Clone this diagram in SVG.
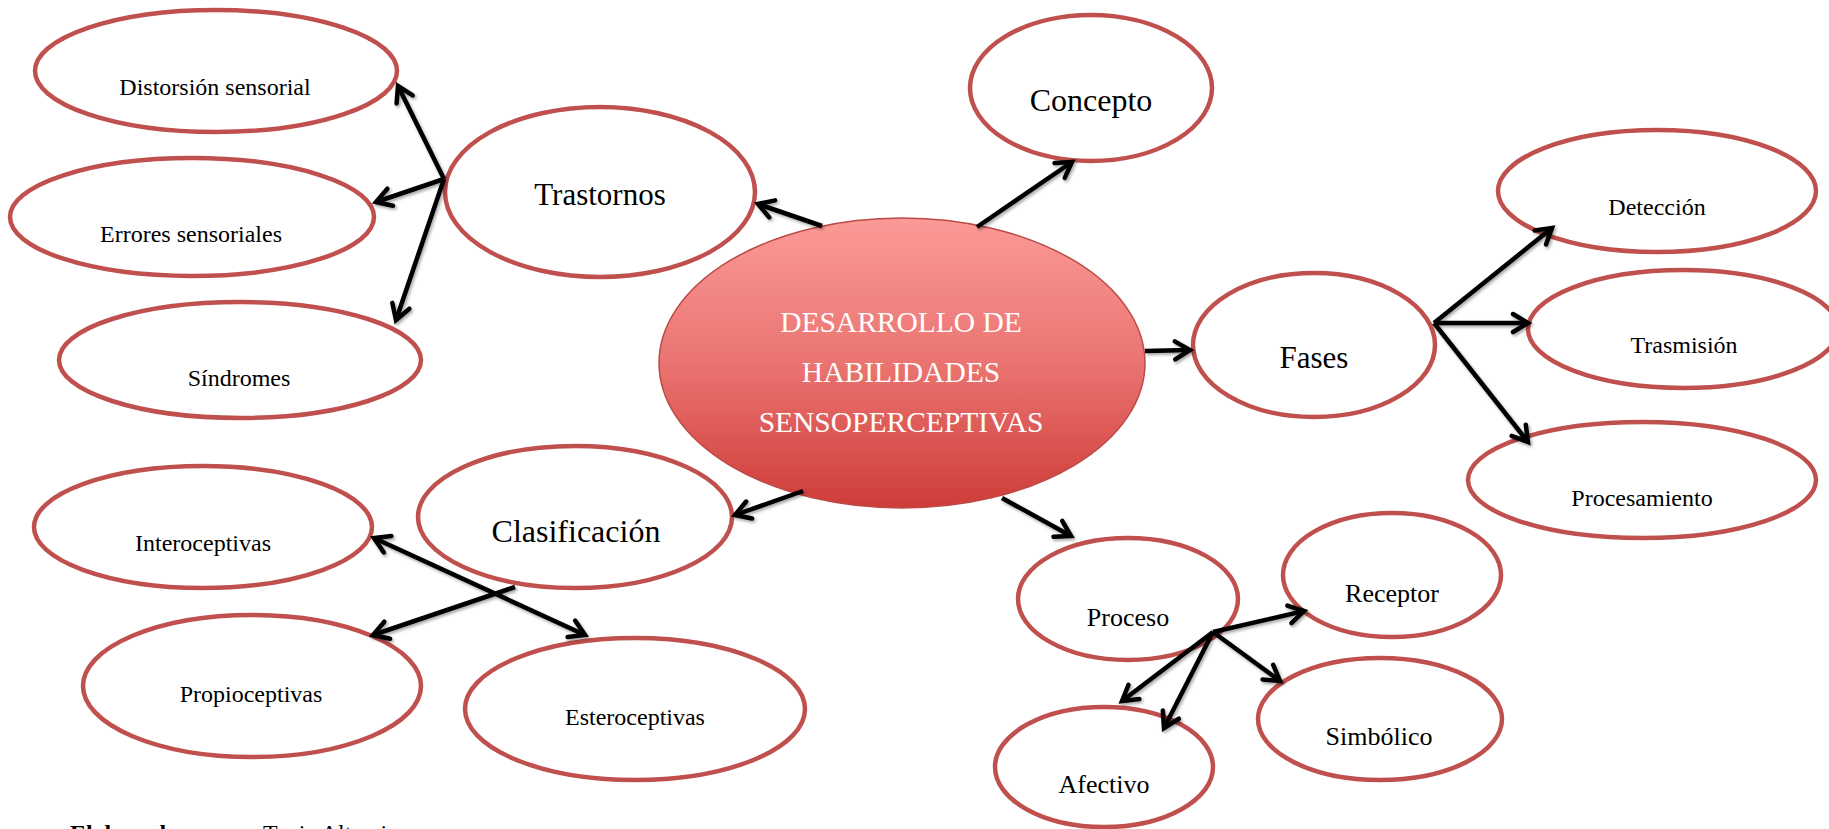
<svg xmlns="http://www.w3.org/2000/svg" width="1829" height="829" viewBox="0 0 1829 829">
<defs>
<linearGradient id="g" x1="0" y1="0" x2="0" y2="1">
<stop offset="0" stop-color="#FB9A97"/>
<stop offset="0.5" stop-color="#EA7471"/>
<stop offset="1" stop-color="#CE3C38"/>
</linearGradient>
<marker id="ah" markerUnits="userSpaceOnUse" markerWidth="30" markerHeight="30" viewBox="-20 -15 30 30" refX="0" refY="0" orient="auto-start-reverse" overflow="visible">
<path d="M-15,-9 L0,0 L-15,9" fill="none" stroke="#000" stroke-width="4.5" stroke-linecap="round" stroke-linejoin="miter"/>
</marker>
<filter id="sh" x="-20%" y="-20%" width="140%" height="140%">
<feDropShadow dx="1.5" dy="2" stdDeviation="1.5" flood-color="#000" flood-opacity="0.35"/>
</filter>
</defs>
<style>
.n{fill:#fff;stroke:#C0504D;stroke-width:4.5}
.t{font-family:"Liberation Serif","Times New Roman",serif;fill:#000;text-anchor:middle}
.s{font-size:24px}
.m{font-size:26px}
.b{font-size:31px}
.c line{stroke:#000;stroke-width:4.5;fill:none}
</style>
<rect width="1829" height="829" fill="#fff"/>

<g id="center">
<ellipse cx="902" cy="363" rx="243" ry="145" fill="url(#g)" stroke="#BC4A47" stroke-width="1.5"/>
<text class="t" x="901" y="332" font-size="29.5" style="fill:#fff">DESARROLLO DE</text>
<text class="t" x="901" y="382" font-size="29.5" style="fill:#fff">HABILIDADES</text>
<text class="t" x="901" y="432" font-size="29.5" style="fill:#fff">SENSOPERCEPTIVAS</text>
</g>

<g id="trastornos"><ellipse class="n" cx="600" cy="192" rx="155" ry="85"/><text class="t b" x="600" y="205">Trastornos</text></g>
<g id="distorsion"><ellipse class="n" cx="216" cy="71" rx="181" ry="61"/><text class="t s" x="215" y="95">Distorsión sensorial</text></g>
<g id="errores"><ellipse class="n" cx="192" cy="217" rx="182" ry="59"/><text class="t s" x="191" y="242">Errores sensoriales</text></g>
<g id="sindromes"><ellipse class="n" cx="240" cy="360" rx="181" ry="58"/><text class="t s" x="239" y="386">Síndromes</text></g>

<g id="concepto"><ellipse class="n" cx="1091" cy="88" rx="121" ry="73"/><text class="t" x="1091" y="111" font-size="32">Concepto</text></g>

<g id="fases"><ellipse class="n" cx="1314" cy="345" rx="121" ry="72"/><text class="t b" x="1314" y="368">Fases</text></g>
<g id="deteccion"><ellipse class="n" cx="1657" cy="191" rx="159" ry="61"/><text class="t s" x="1657" y="215">Detección</text></g>
<g id="trasmision"><ellipse class="n" cx="1683" cy="329" rx="155" ry="59"/><text class="t s" x="1684" y="353">Trasmisión</text></g>
<g id="procesamiento"><ellipse class="n" cx="1642" cy="480" rx="174" ry="58"/><text class="t s" x="1642" y="506">Procesamiento</text></g>

<g id="clasificacion"><ellipse class="n" cx="575" cy="517" rx="157" ry="71"/><text class="t" x="576" y="542" font-size="32">Clasificación</text></g>
<g id="interoceptivas"><ellipse class="n" cx="203" cy="527" rx="169" ry="61"/><text class="t s" x="203" y="551">Interoceptivas</text></g>
<g id="propioceptivas"><ellipse class="n" cx="252" cy="686" rx="169" ry="71"/><text class="t s" x="251" y="702">Propioceptivas</text></g>
<g id="esteroceptivas"><ellipse class="n" cx="635" cy="709" rx="170" ry="71"/><text class="t s" x="635" y="725">Esteroceptivas</text></g>

<g id="proceso"><ellipse class="n" cx="1128" cy="599" rx="110" ry="61"/><text class="t m" x="1128" y="626">Proceso</text></g>
<g id="receptor"><ellipse class="n" cx="1392" cy="575" rx="109" ry="62"/><text class="t m" x="1392" y="602">Receptor</text></g>
<g id="simbolico"><ellipse class="n" cx="1380" cy="719" rx="122" ry="61"/><text class="t m" x="1379" y="745">Simbólico</text></g>
<g id="afectivo"><ellipse class="n" cx="1104" cy="767" rx="109" ry="60"/><text class="t m" x="1104" y="793">Afectivo</text></g>

<g id="connectors" class="c" filter="url(#sh)">
<line x1="822" y1="226" x2="758" y2="204" marker-end="url(#ah)"/>
<line x1="977" y1="227" x2="1072" y2="162" marker-end="url(#ah)"/>
<line x1="1145" y1="351" x2="1190" y2="350" marker-end="url(#ah)"/>
<line x1="803" y1="491" x2="735" y2="515" marker-end="url(#ah)"/>
<line x1="1002" y1="498" x2="1071" y2="536" marker-end="url(#ah)"/>
<line x1="444" y1="179" x2="398" y2="86" marker-end="url(#ah)"/>
<line x1="444" y1="179" x2="376" y2="202" marker-end="url(#ah)"/>
<line x1="444" y1="179" x2="396" y2="320" marker-end="url(#ah)"/>
<line x1="1434" y1="323" x2="1552" y2="228" marker-end="url(#ah)"/>
<line x1="1434" y1="323" x2="1528" y2="323" marker-end="url(#ah)"/>
<line x1="1434" y1="323" x2="1528" y2="442" marker-end="url(#ah)"/>
<line x1="374" y1="538" x2="585" y2="635" marker-start="url(#ah)" marker-end="url(#ah)"/>
<line x1="515" y1="587" x2="373" y2="635" marker-end="url(#ah)"/>
<line x1="1213" y1="632" x2="1304" y2="611" marker-end="url(#ah)"/>
<line x1="1213" y1="632" x2="1280" y2="681" marker-end="url(#ah)"/>
<line x1="1213" y1="632" x2="1122" y2="701" marker-end="url(#ah)"/>
<line x1="1213" y1="632" x2="1164" y2="728" marker-end="url(#ah)"/>
</g>

<g id="credit">
<text x="70" y="841" font-family="Liberation Serif, Times New Roman, serif" font-size="24"><tspan font-weight="bold">Elaborado por:</tspan><tspan x="263">Tania Altamirano</tspan></text>
</g>
</svg>
